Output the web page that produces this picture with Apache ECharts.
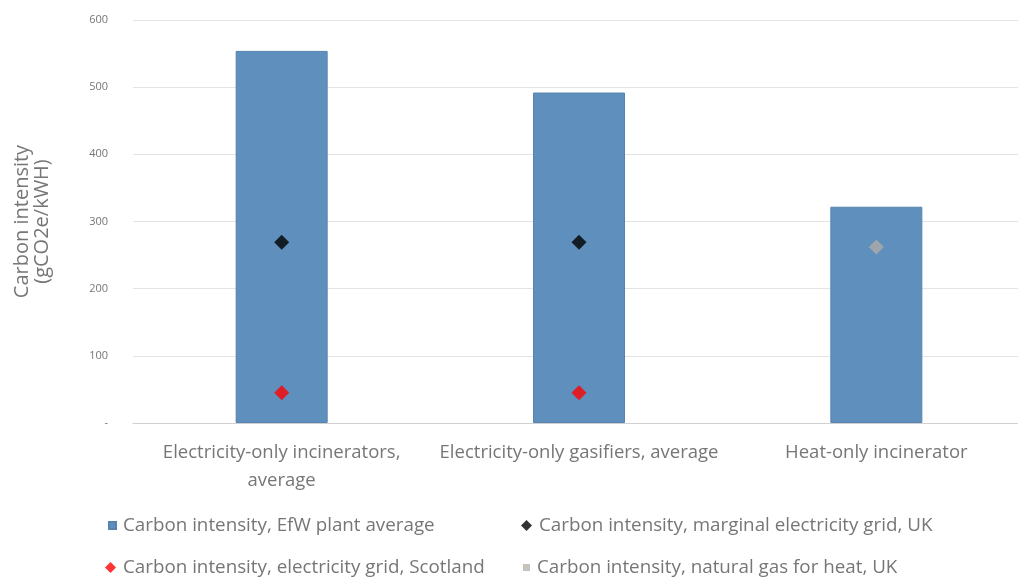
<!DOCTYPE html>
<html>
<head>
<meta charset="utf-8">
<script src="https://cdn.jsdelivr.net/npm/echarts@6/dist/echarts.min.js"></script>
<style>
  html, body { margin: 0; padding: 0; background: #fff; overflow: hidden; }
  #chart { width: 1026px; height: 579px; }
</style>
</head>
<body>
<div id="chart"></div>
<script>
// Plant types on the category axis
const categories = [
  'Electricity-only incinerators,\naverage',
  'Electricity-only gasifiers, average',
  'Heat-only incinerator'
];
// Carbon intensity values, gCO2e/kWh
const efwAverage = [554, 492, 322];
const marginalGridUK = [269, 269, null];
const gridScotland = [45, 45, null];
const naturalGasHeatUK = [null, null, 262];

const seriesNames = [
  'Carbon intensity, EfW plant average',
  'Carbon intensity, marginal electricity grid, UK',
  'Carbon intensity, electricity grid, Scotland',
  'Carbon intensity, natural gas for heat, UK'
];

const textColor = '#767676';
const fontFamily = 'Open Sans, Noto Sans, sans-serif';

const chart = echarts.init(document.getElementById('chart'), null, { renderer: 'canvas' });

// One legend block per entry so the two-column layout lines up
function legendAt(name, left, top, icon, size) {
  return {
    data: [{ name: name, icon: icon }],
    left: left,
    top: top,
    itemWidth: size,
    itemHeight: size,
    itemGap: 4,
    textStyle: { color: textColor, fontSize: 18.8, fontFamily: fontFamily, padding: [0, 0, 0, 2] },
    selectedMode: false
  };
}

chart.setOption({
  animation: false,
  textStyle: { fontFamily: fontFamily },
  legend: [
    legendAt(seriesNames[0], 103, 511, 'rect', 7),
    legendAt(seriesNames[1], 516, 511, 'diamond', 11),
    legendAt(seriesNames[2], 100, 553, 'diamond', 11),
    legendAt(seriesNames[3], 518, 553, 'rect', 7)
  ],
  grid: { left: 133, top: 20, right: 1, bottom: 156, containLabel: false },
  xAxis: {
    type: 'category',
    data: categories,
    axisLine: { lineStyle: { color: '#d0d0d0', width: 1 } },
    axisTick: { show: false },
    axisLabel: { color: textColor, fontSize: 18.5, lineHeight: 28, margin: 16, interval: 0 }
  },
  yAxis: {
    type: 'value',
    min: 0,
    max: 600,
    interval: 100,
    name: 'Carbon intensity\n(gCO2e/kWH)',
    nameLocation: 'middle',
    nameGap: 81,
    nameTextStyle: { color: textColor, fontSize: 20, lineHeight: 20 },
    axisLine: { show: false },
    axisTick: { show: false },
    axisLabel: {
      color: textColor,
      fontSize: 11,
      margin: 25,
      formatter: v => (v === 0 ? '-' : String(v))
    },
    splitLine: { lineStyle: { color: '#e3e3e3', width: 1 } }
  },
  series: [
    {
      name: seriesNames[0],
      type: 'bar',
      data: efwAverage,
      barWidth: 92,
      itemStyle: { color: '#5f8fbc', borderColor: '#5683b0', borderWidth: 1 },
      z: 2
    },
    {
      name: seriesNames[1],
      type: 'scatter',
      data: marginalGridUK,
      symbol: 'diamond',
      symbolSize: [15, 15],
      itemStyle: { color: '#000' },
      z: 5
    },
    {
      name: seriesNames[2],
      type: 'scatter',
      data: gridScotland,
      symbol: 'diamond',
      symbolSize: [15, 15],
      itemStyle: { color: '#ff0000' },
      z: 5
    },
    {
      name: seriesNames[3],
      type: 'scatter',
      data: naturalGasHeatUK,
      symbol: 'diamond',
      symbolSize: [15, 15],
      itemStyle: { color: '#b4aea6', opacity: 0.75 },
      z: 5
    }
  ]
});
</script>
</body>
</html>
